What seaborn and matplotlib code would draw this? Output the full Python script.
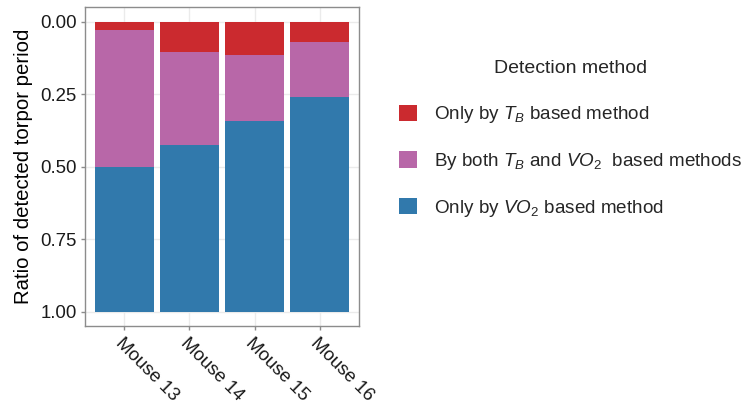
import matplotlib
matplotlib.use("Agg")
import matplotlib.pyplot as plt
from matplotlib.patches import Patch
import seaborn as sns
import pandas as pd

mice = ["Mouse 13", "Mouse 14", "Mouse 15", "Mouse 16"]
only_tb = [0.028, 0.103, 0.114, 0.069]
both = [0.472, 0.322, 0.230, 0.189]
only_vo2 = [0.500, 0.575, 0.656, 0.742]

labels = [r"Only by $\mathit{T_B}$ based method",
          r"By both $\mathit{T_B}$ and $\mathit{VO_2}$  based methods",
          r"Only by $\mathit{VO_2}$ based method"]
colors = ["#CB2A2F", "#B867A8", "#3179AC"]
y_ticks = [0.0, 0.25, 0.5, 0.75, 1.0]
y_tick_labels = ["0.00", "0.25", "0.50", "0.75", "1.00"]

sns.set_theme(style="white")
plt.rcParams["font.family"] = ["Liberation Sans", "DejaVu Sans"]
plt.rcParams["mathtext.fontset"] = "custom"
plt.rcParams["mathtext.rm"] = "Liberation Sans"
plt.rcParams["mathtext.it"] = "Liberation Sans:italic"

# cumulative extents from the top of the stack (axis is reversed)
rows = []
for i, m in enumerate(mice):
    c1 = only_tb[i]
    c2 = c1 + both[i]
    c3 = c2 + only_vo2[i]
    rows.append((m, labels[2], c3))
    rows.append((m, labels[1], c2))
    rows.append((m, labels[0], c1))
df = pd.DataFrame(rows, columns=["mouse", "method", "extent"])

fig = plt.figure(figsize=(7.54, 4.04), dpi=100)
ax = fig.add_axes([85.3 / 754, 78 / 404, (358.7 - 85.3) / 754, (326 - 7.3) / 404])

sns.barplot(data=df, x="mouse", y="extent", hue="method",
            hue_order=[labels[2], labels[1], labels[0]],
            palette=[colors[2], colors[1], colors[0]], saturation=1,
            dodge=False, width=0.9, order=mice, ax=ax,
            linewidth=0, errorbar=None, legend=False, zorder=3)

ax.set_xlim(-0.6, 3.6)
ax.set_ylim(1.05, -0.05)
ax.set_yticks(y_ticks)
ax.set_yticklabels(y_tick_labels)
ax.set_xlabel("")
ax.set_ylabel("Ratio of detected torpor period", fontsize=14.7, color="black", labelpad=5)

ax.grid(True, color="#EBEBEB", linewidth=1.0, zorder=0)
ax.set_axisbelow(True)
for s in ax.spines.values():
    s.set_color("#8C8C8C")
    s.set_linewidth(1.0)
ax.tick_params(axis="both", length=3, width=1, color="#8C8C8C",
               labelsize=13.4, labelcolor="#1A1A1A", pad=3, left=True, bottom=True)
for t in ax.get_xticklabels():
    t.set_rotation(-45)
    t.set_ha("left")
    t.set_va("top")
    t.set_rotation_mode("anchor")

handles = [Patch(facecolor=c, edgecolor="none") for c in colors]
leg = fig.legend(handles, labels, loc="upper left", bbox_to_anchor=(391 / 754, 1 - 52 / 404),
                 frameon=False, fontsize=13.6, title="Detection method", title_fontsize=14,
                 handlelength=0.96, handleheight=0.96, labelspacing=1.36,
                 handletextpad=0.92, borderaxespad=0)
leg._legend_box.sep = 20

fig.savefig("out.png", dpi=100)
